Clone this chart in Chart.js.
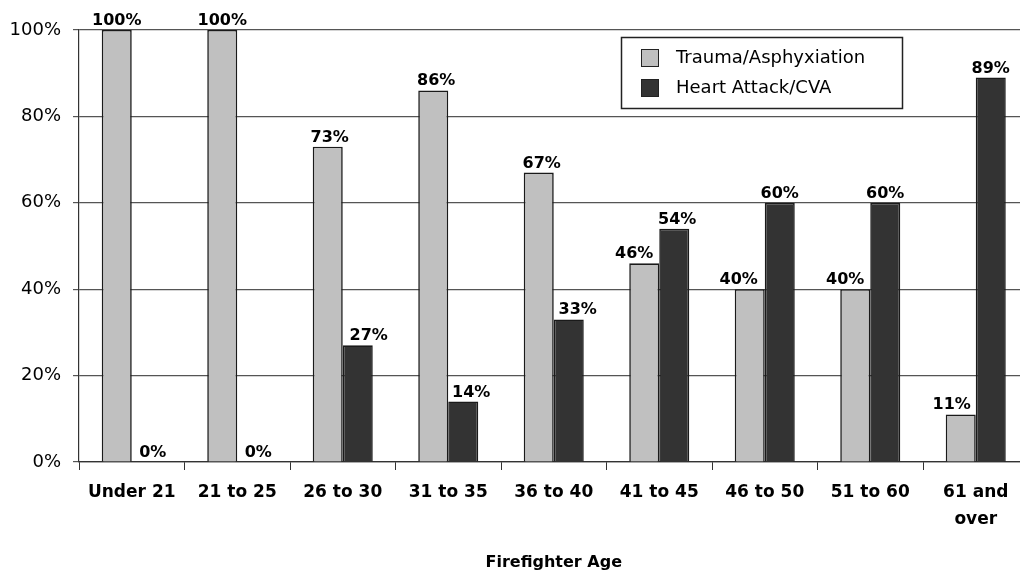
<!DOCTYPE html>
<html><head><meta charset="utf-8">
<script src="https://cdn.jsdelivr.net/npm/chart.js@4"></script>
<style>html,body{margin:0;padding:0;background:#fff;overflow:hidden}#wrap{width:1030px;height:575px;position:relative}</style>
</head><body><div id="wrap"><canvas id="c"></canvas></div>
<script>
const categories = ['Under 21','21 to 25','26 to 30','31 to 35','36 to 40','41 to 45','46 to 50','51 to 60',['61 and','over']];
const seriesNames = ['Trauma/Asphyxiation','Heart Attack/CVA'];
const trauma = [100,100,73,86,67,46,40,40,11];
const heart = [0,0,27,14,33,54,60,60,89];
const yTicks = [0,20,40,60,80,100];
const axisTitle = 'Firefighter Age';

const FONT = '"DejaVu Sans", sans-serif';
const labelNudge = [[0,0,2,3,3,-10,-11,-10,-9],[6,6,11,8,9,3,0,0,0]];

const dataLabels = {
  id: 'dataLabels',
  afterDatasetsDraw(chart) {
    const ctx = chart.ctx;
    ctx.save();
    ctx.font = 'bold 16px ' + FONT;
    ctx.fillStyle = '#000';
    ctx.textAlign = 'center';
    ctx.textBaseline = 'alphabetic';
    chart.data.datasets.forEach((ds, di) => {
      const meta = chart.getDatasetMeta(di);
      meta.data.forEach((el, i) => {
        ctx.fillText(ds.data[i] + '%', el.x + labelNudge[di][i], el.y - 5);
      });
    });
    ctx.restore();
  }
};

const boxLegend = {
  id: 'boxLegend',
  afterDraw(chart) {
    const ctx = chart.ctx;
    ctx.save();
    ctx.fillStyle = '#fff';
    ctx.fillRect(621, 37, 281, 71);
    ctx.strokeStyle = '#222';
    ctx.lineWidth = 1.5;
    ctx.strokeRect(621.5, 37.5, 281, 71);
    ctx.font = '18px ' + FONT;
    ctx.textBaseline = 'middle';
    ctx.textAlign = 'left';
    chart.data.datasets.forEach((ds, i) => {
      const cy = 58 + i * 30;
      ctx.fillStyle = ds.backgroundColor;
      ctx.fillRect(641, cy - 9, 18, 18);
      ctx.strokeStyle = '#222';
      ctx.lineWidth = 1;
      ctx.strokeRect(641.5, cy - 8.5, 17, 17);
      ctx.fillStyle = '#000';
      ctx.fillText(ds.label, 676, cy);
    });
    ctx.restore();
  }
};

new Chart(document.getElementById('c'), {
  type: 'bar',
  data: {
    labels: categories,
    datasets: [
      { label: seriesNames[0], data: trauma, backgroundColor: '#c0c0c0', borderColor: '#1a1a1a', borderWidth: 1.6 },
      { label: seriesNames[1], data: heart, backgroundColor: '#333333', borderColor: '#1a1a1a', borderWidth: 1.6 }
    ]
  },
  options: {
    responsive: true,
    maintainAspectRatio: false,
    animation: false,
    layout: { padding: { top: 30, left: 0, right: 1.5, bottom: 0 } },
    datasets: { bar: { barPercentage: 1, categoryPercentage: 0.569 } },
    plugins: { legend: { display: false }, tooltip: { enabled: false } },
    scales: {
      x: {
        offset: true,
        grid: { drawOnChartArea: false, drawTicks: true, tickLength: 8, color: '#333', offset: true },
        border: { display: true, color: '#333', width: 1.2 },
        ticks: { color: '#000', padding: 9, maxRotation: 0, autoSkip: false, font: { family: FONT, size: 17, weight: 'bold', lineHeight: 1.6 } },
        title: { display: true, text: axisTitle, color: '#000', font: { family: FONT, size: 16, weight: 'bold' }, padding: { top: 0, bottom: 3 } },
        afterFit(s) { s.height = 113; }
      },
      y: {
        min: 0, max: 100,
        afterBuildTicks(s) { s.ticks = yTicks.map(v => ({ value: v })); },
        grid: { color: '#555', lineWidth: 1.2, drawTicks: true, tickLength: 6 },
        border: { display: true, color: '#333', width: 1.2 },
        ticks: { color: '#000', padding: 12, font: { family: FONT, size: 18 }, callback: v => v + '%' },
        afterFit(s) { s.width = 79; }
      }
    }
  },
  plugins: [dataLabels, boxLegend]
});
</script>
</body></html>
